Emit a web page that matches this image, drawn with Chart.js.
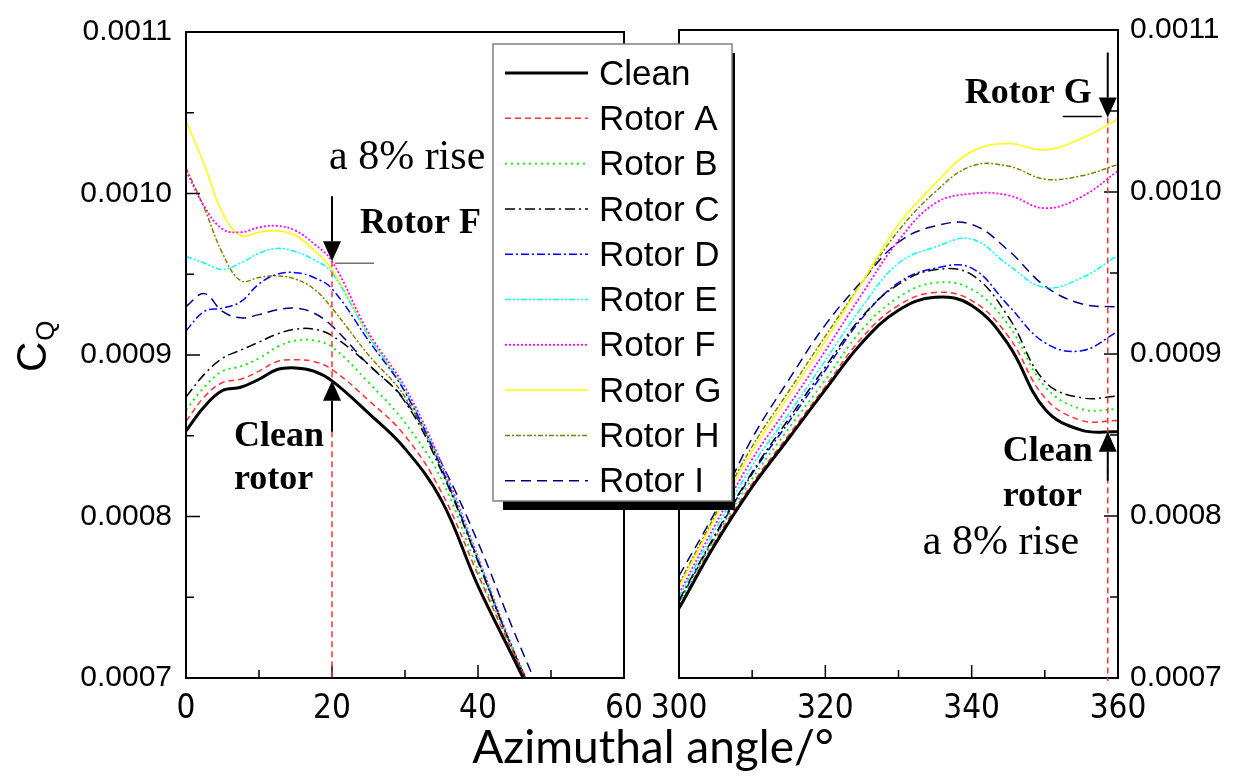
<!DOCTYPE html>
<html>
<head>
<meta charset="utf-8">
<script src="https://cdn.jsdelivr.net/npm/chart.js@4"></script>
<style>
  html, body { margin: 0; padding: 0; background: #fff; }
  #wrap { position: relative; width: 1241px; height: 784px; }
  #wrap canvas { position: absolute; left: 0; top: 0; }
</style>
</head>
<body>
<div id="wrap">
  <canvas id="leftPanel" width="1241" height="784"></canvas>
  <canvas id="rightPanel" width="1241" height="784"></canvas>
</div>
<script>
// C_Q vs azimuthal angle, broken x axis (0-60 | 300-360)
// values below are in units of 1e-4

const seriesNames = ['Clean', 'Rotor A', 'Rotor B', 'Rotor C', 'Rotor D',
  'Rotor E', 'Rotor F', 'Rotor G', 'Rotor H', 'Rotor I'];

const leftAngles = [0, 2.5, 5, 7.5, 10, 12.5, 15, 17.5, 20, 25, 30, 35, 40, 45, 50];
const rightAngles = [300, 305, 310, 315, 320, 325, 330, 335, 340, 345, 350, 355, 360];

const cleanLeft  = [8.53, 8.68, 8.78, 8.80, 8.85, 8.91, 8.92, 8.90, 8.84, 8.64, 8.42, 8.10, 7.57, 7.11, 6.65];
const rotorALeft = [8.59, 8.74, 8.83, 8.85, 8.90, 8.96, 8.97, 8.96, 8.91, 8.72, 8.50, 8.15, 7.64, 7.14, 6.68];
const rotorBLeft = [8.66, 8.80, 8.90, 8.93, 8.98, 9.05, 9.09, 9.09, 9.05, 8.83, 8.58, 8.23, 7.67, 7.15, 6.68];
const rotorCLeft = [8.74, 8.88, 8.98, 9.03, 9.08, 9.13, 9.16, 9.16, 9.12, 8.94, 8.71, 8.28, 7.72, 7.15, 6.68];
const rotorDLeft = [9.15, 9.27, 9.29, 9.33, 9.44, 9.50, 9.51, 9.48, 9.41, 9.09, 8.77, 8.30, 7.73, 7.15, 6.68];
const rotorELeft = [9.61, 9.57, 9.53, 9.57, 9.63, 9.66, 9.64, 9.59, 9.51, 9.12, 8.78, 8.31, 7.74, 7.15, 6.68];
const rotorFLeft = [10.14, 9.92, 9.78, 9.76, 9.79, 9.80, 9.77, 9.69, 9.58, 9.14, 8.80, 8.33, 7.75, 7.16, 6.68];
const rotorGLeft = [10.45, 10.18, 9.88, 9.74, 9.76, 9.77, 9.74, 9.65, 9.53, 9.12, 8.78, 8.31, 7.74, 7.15, 6.68];
const rotorHLeft = [10.16, 9.91, 9.63, 9.46, 9.48, 9.49, 9.47, 9.41, 9.29, 9.00, 8.74, 8.29, 7.73, 7.15, 6.68];
const rotorILeft = [9.30, 9.38, 9.27, 9.23, 9.25, 9.28, 9.29, 9.26, 9.18, 8.94, 8.72, 8.33, 7.84, 7.28, 6.75];

const cleanRight  = [7.43, 7.83, 8.18, 8.48, 8.78, 9.07, 9.27, 9.35, 9.30, 9.06, 8.66, 8.53, 8.52];
const rotorARight = [7.44, 7.85, 8.20, 8.50, 8.80, 9.10, 9.30, 9.38, 9.33, 9.11, 8.73, 8.59, 8.59];
const rotorBRight = [7.46, 7.87, 8.23, 8.54, 8.84, 9.15, 9.35, 9.44, 9.40, 9.18, 8.80, 8.66, 8.66];
const rotorCRight = [7.48, 7.89, 8.27, 8.60, 8.92, 9.23, 9.43, 9.52, 9.49, 9.23, 8.83, 8.73, 8.74];
const rotorDRight = [7.47, 7.88, 8.26, 8.58, 8.90, 9.22, 9.44, 9.53, 9.53, 9.30, 9.07, 9.02, 9.14];
const rotorERight = [7.50, 7.92, 8.31, 8.63, 8.96, 9.29, 9.56, 9.66, 9.71, 9.55, 9.41, 9.47, 9.61];
const rotorFRight = [7.52, 7.95, 8.35, 8.68, 9.02, 9.37, 9.70, 9.93, 9.99, 9.98, 9.90, 9.97, 10.13];
const rotorGRight = [7.56, 7.99, 8.40, 8.74, 9.08, 9.44, 9.80, 10.05, 10.25, 10.30, 10.26, 10.33, 10.45];
const rotorHRight = [7.58, 8.01, 8.43, 8.77, 9.11, 9.44, 9.76, 10.00, 10.16, 10.16, 10.08, 10.10, 10.17];
const rotorIRight = [7.63, 8.03, 8.48, 8.84, 9.18, 9.45, 9.69, 9.79, 9.80, 9.64, 9.42, 9.31, 9.29];

const yTicks = [0.0007, 0.0008, 0.0009, 0.0010, 0.0011];
const xTicksLeft = [0, 20, 40, 60];
const xTicksRight = [300, 320, 340, 360];

const UNIT = 1e-4;

const leftSets = [cleanLeft, rotorALeft, rotorBLeft, rotorCLeft, rotorDLeft,
  rotorELeft, rotorFLeft, rotorGLeft, rotorHLeft, rotorILeft];
const rightSets = [cleanRight, rotorARight, rotorBRight, rotorCRight, rotorDRight,
  rotorERight, rotorFRight, rotorGRight, rotorHRight, rotorIRight];

const styles = [
  { color: '#000000', width: 3,   dash: [] },
  { color: '#ff3030', width: 1.5, dash: [6, 4] },
  { color: '#00ee00', width: 1.8, dash: [2, 4] },
  { color: '#000000', width: 1.5, dash: [10, 4, 2, 4] },
  { color: '#0000ff', width: 1.5, dash: [8, 3, 2, 3] },
  { color: '#00ffff', width: 1.5, dash: [6, 2, 2, 2, 2, 2] },
  { color: '#ff00ff', width: 1.8, dash: [2, 2] },
  { color: '#ffff00', width: 1.5, dash: [] },
  { color: '#808000', width: 1.5, dash: [5, 2, 2, 2] },
  { color: '#000080', width: 1.5, dash: [10, 6] },
];

const serifBold = 'bold 36px "Liberation Serif", "Times New Roman", serif';
const serifReg = '42px "Liberation Serif", "Times New Roman", serif';

function buildDatasets(angles, sets) {
  return sets.map((vals, i) => ({
    label: seriesNames[i],
    data: angles.map((a, j) => ({ x: a, y: vals[j] * UNIT })),
    borderColor: styles[i].color,
    borderWidth: styles[i].width,
    borderDash: styles[i].dash,
    pointRadius: 0,
    tension: 0.4,
    fill: false,
  }));
}

function arrow(ctx, x, tipY, tailY) {
  const dir = tailY < tipY ? 1 : -1; // 1 = pointing down
  const headH = 20, headW = 9;
  ctx.beginPath();
  ctx.moveTo(x, tailY);
  ctx.lineTo(x, tipY - dir * headH);
  ctx.stroke();
  ctx.beginPath();
  ctx.moveTo(x, tipY);
  ctx.lineTo(x - headW, tipY - dir * headH);
  ctx.lineTo(x + headW, tipY - dir * headH);
  ctx.closePath();
  ctx.fill();
}

function redMarker(ctx, x, y0, y1) {
  ctx.save();
  ctx.strokeStyle = '#ff3030';
  ctx.lineWidth = 1.5;
  ctx.setLineDash([6, 4]);
  ctx.beginPath();
  ctx.moveTo(x, y0);
  ctx.lineTo(x, y1);
  ctx.stroke();
  ctx.restore();
}

function frameAndTicks(chart, xTicks, side) {
  const { ctx, chartArea: a, scales } = chart;
  ctx.save();
  ctx.strokeStyle = '#000';
  ctx.lineWidth = 2;
  ctx.strokeRect(a.left, a.top, a.right - a.left, a.bottom - a.top);
  ctx.lineWidth = 1.5;
  ctx.beginPath();
  yTicks.forEach((v, i) => {
    const py = scales.y.getPixelForValue(v);
    const edge = side === 'left' ? a.left : a.right;
    const s = side === 'left' ? 1 : -1;
    ctx.moveTo(edge, py); ctx.lineTo(edge + s * 14, py);
    if (i < yTicks.length - 1) {
      const pm = scales.y.getPixelForValue((v + yTicks[i + 1]) / 2);
      ctx.moveTo(edge, pm); ctx.lineTo(edge + s * 8, pm);
    }
  });
  xTicks.forEach((v, i) => {
    const px = scales.x.getPixelForValue(v);
    ctx.moveTo(px, a.bottom); ctx.lineTo(px, a.bottom - 13);
    if (i < xTicks.length - 1) {
      const pm = scales.x.getPixelForValue((v + xTicks[i + 1]) / 2);
      ctx.moveTo(pm, a.bottom); ctx.lineTo(pm, a.bottom - 8);
    }
  });
  ctx.stroke();
  ctx.restore();
}

const leftDecor = {
  id: 'leftDecor',
  afterDraw(chart) {
    const { ctx, chartArea: a, scales } = chart;
    frameAndTicks(chart, xTicksLeft, 'left');
    const x20 = scales.x.getPixelForValue(20);
    const tipF = scales.y.getPixelForValue(0.000958);
    const tipC = scales.y.getPixelForValue(0.000884);
    redMarker(ctx, x20, tipF, a.bottom);
    ctx.save();
    ctx.fillStyle = '#000';
    ctx.strokeStyle = '#000';
    ctx.lineWidth = 2;
    arrow(ctx, x20, tipF, tipF - 65);
    arrow(ctx, x20, tipC, tipC + 51);
    ctx.strokeStyle = '#707070';
    ctx.lineWidth = 1.5;
    ctx.beginPath();
    ctx.moveTo(x20 + 3, tipF + 2);
    ctx.lineTo(x20 + 42, tipF + 2);
    ctx.stroke();
    ctx.textBaseline = 'alphabetic';
    ctx.textAlign = 'left';
    ctx.font = serifReg;
    ctx.fillText('a 8% rise', x20 - 3, tipF - 92);
    ctx.font = serifBold;
    ctx.fillText('Rotor F', x20 + 28, tipF - 28);
    ctx.fillText('Clean', x20 - 98, tipC + 65);
    ctx.fillText('rotor', x20 - 98, tipC + 108);

    // axis titles
    ctx.save();
    ctx.translate(46, 372);
    ctx.rotate(-Math.PI / 2);
    ctx.font = '42px "Liberation Sans", Arial, sans-serif';
    ctx.fillText('C', 0, 0);
    const cw = ctx.measureText('C').width;
    ctx.font = '26px "Liberation Sans", Arial, sans-serif';
    ctx.fillText('Q', cw + 1, 8);
    ctx.restore();

    ctx.font = '46px Lato, "Open Sans", sans-serif';
    ctx.textAlign = 'center';
    ctx.fillText('Azimuthal angle/°', 653, 763);
    ctx.restore();
  }
};

const rightDecor = {
  id: 'rightDecor',
  afterDraw(chart) {
    const { ctx, chartArea: a, scales } = chart;
    frameAndTicks(chart, xTicksRight, 'right');
    const xR = scales.x.getPixelForValue(358.6);
    const tipG = scales.y.getPixelForValue(0.001046);
    const tipC = scales.y.getPixelForValue(0.000852);
    redMarker(ctx, xR, tipG, a.bottom + 3);
    ctx.save();
    ctx.fillStyle = '#000';
    ctx.strokeStyle = '#000';
    ctx.lineWidth = 2;
    arrow(ctx, xR, tipG, tipG - 65);
    arrow(ctx, xR, tipC, tipC + 49);
    ctx.lineWidth = 1.5;
    ctx.beginPath();
    ctx.moveTo(xR - 45, tipG - 1);
    ctx.lineTo(xR - 6, tipG - 1);
    ctx.stroke();
    ctx.textBaseline = 'alphabetic';
    ctx.font = serifBold;
    ctx.textAlign = 'right';
    ctx.fillText('Rotor G', xR - 16, tipG - 14);
    ctx.textAlign = 'left';
    ctx.fillText('Clean', xR - 105, tipC + 29);
    ctx.fillText('rotor', xR - 105, tipC + 74);
    ctx.font = serifReg;
    ctx.fillText('a 8% rise', xR - 185, tipC + 122);

    // legend box with drop shadow
    const lx = 493, ly = 44, lw = 239, lh = 457;
    ctx.fillStyle = '#000';
    ctx.fillRect(lx + 10, ly + lh, lw - 7, 9);
    ctx.fillRect(lx + lw, ly + 9, 3, lh);
    ctx.fillStyle = '#fff';
    ctx.fillRect(lx, ly, lw, lh);
    ctx.strokeStyle = '#808080';
    ctx.lineWidth = 1.5;
    ctx.strokeRect(lx, ly, lw, lh);
    ctx.font = '35px "Liberation Sans", Arial, sans-serif';
    ctx.textBaseline = 'middle';
    chart.data.datasets.forEach((ds, i) => {
      const ry = 73 + i * 45.3;
      ctx.save();
      ctx.strokeStyle = ds.borderColor;
      ctx.lineWidth = ds.borderWidth;
      ctx.setLineDash(ds.borderDash);
      ctx.beginPath();
      ctx.moveTo(505, ry);
      ctx.lineTo(588, ry);
      ctx.stroke();
      ctx.restore();
      ctx.fillStyle = '#000';
      ctx.fillText(ds.label, 599, ry + 2);
    });
    ctx.restore();
  }
};

function panelOptions(side, xMin, xMax, xTicks, padding) {
  return {
    responsive: false,
    animation: false,
    devicePixelRatio: 1,
    layout: { padding: padding, autoPadding: false },
    elements: { line: { capBezierPoints: false } },
    plugins: { legend: { display: false }, tooltip: { enabled: false } },
    scales: {
      x: {
        type: 'linear',
        min: xMin,
        max: xMax,
        afterBuildTicks: (s) => { s.ticks = xTicks.map(v => ({ value: v })); },
        afterFit: (s) => { s.height = 106; },
        grid: { display: false, drawTicks: false },
        border: { display: false },
        ticks: {
          color: '#000',
          padding: 12,
          maxRotation: 0,
          font: { family: '"Liberation Sans Narrow", "DejaVu Sans Condensed", "Liberation Sans", sans-serif', size: 33 },
        },
      },
      y: {
        type: 'linear',
        position: side,
        min: 0.0007,
        max: 0.0011,
        afterBuildTicks: (s) => { s.ticks = yTicks.map(v => ({ value: v })); },
        afterFit: (s) => { s.width = side === 'left' ? 186 : 123; },
        grid: { display: false, drawTicks: false },
        border: { display: false },
        ticks: {
          color: '#000',
          padding: side === 'left' ? 14 : 12,
          font: { family: '"Liberation Sans", Arial, sans-serif', size: 30 },
          callback: (v) => v.toFixed(4),
        },
      },
    },
  };
}

new Chart(document.getElementById('leftPanel'), {
  type: 'line',
  data: { datasets: buildDatasets(leftAngles, leftSets) },
  options: panelOptions('left', 0, 60, xTicksLeft, { left: 0, right: 617, top: 22, bottom: 0 }),
  plugins: [leftDecor],
});

new Chart(document.getElementById('rightPanel'), {
  type: 'line',
  data: { datasets: buildDatasets(rightAngles, rightSets) },
  options: panelOptions('right', 300, 360, xTicksRight, { left: 679, right: 0, top: 22, bottom: 0 }),
  plugins: [rightDecor],
});
</script>
</body>
</html>
